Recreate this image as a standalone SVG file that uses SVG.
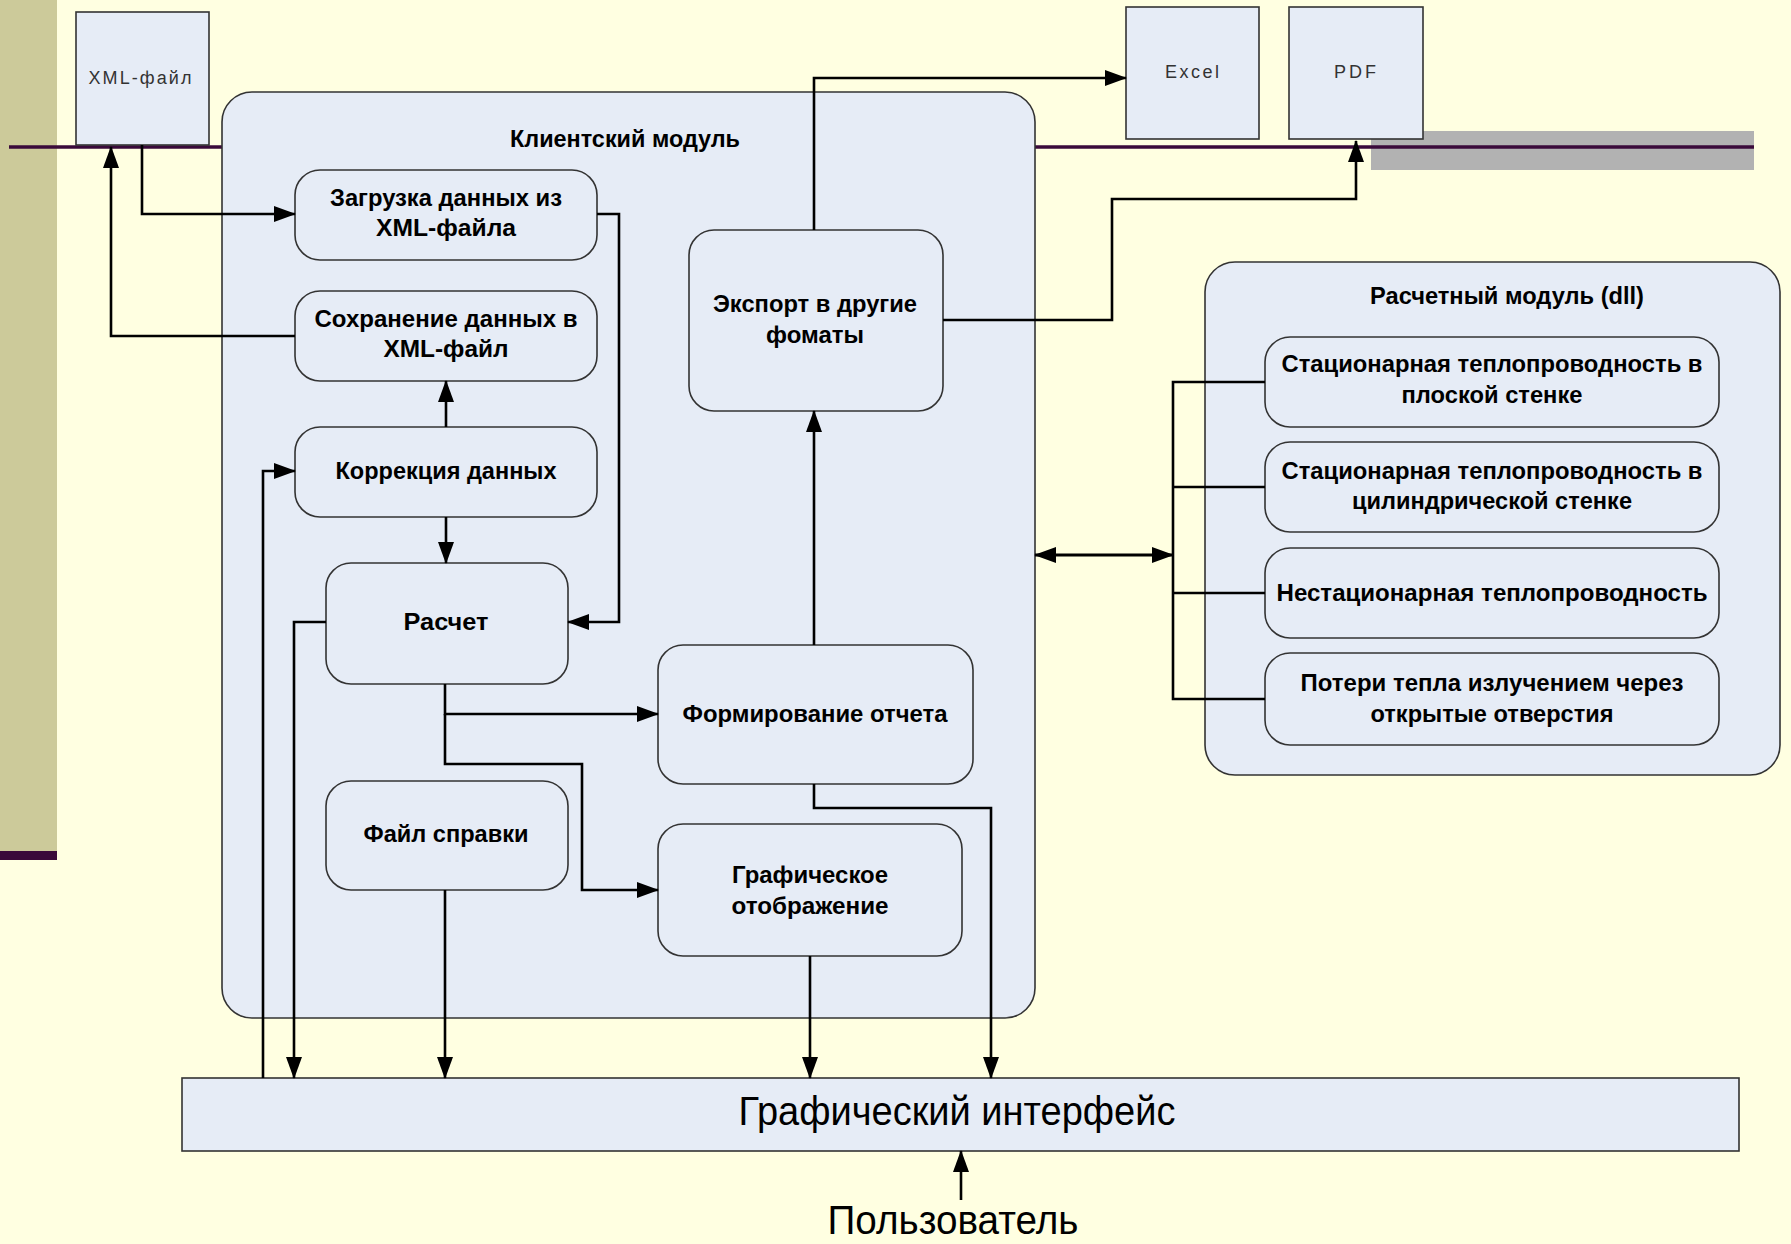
<svg xmlns="http://www.w3.org/2000/svg" width="1791" height="1244" viewBox="0 0 1791 1244">
<style>
.bg{fill:#FFFFE1}
.box{fill:#E6ECF6;stroke:#333;stroke-width:1.6}
.t{font-family:"Liberation Sans",Arial,sans-serif;font-weight:bold;font-size:24px;text-anchor:middle;fill:#000}
.s{font-family:"Liberation Sans",Arial,sans-serif;font-size:18px;text-anchor:middle;fill:#333}
.big{font-family:"Liberation Sans",Arial,sans-serif;font-size:40px;text-anchor:middle;fill:#000}
.c{fill:none;stroke:#000;stroke-width:2.6}
.ca{fill:none;stroke:#000;stroke-width:2.6;marker-end:url(#ah)}
</style>
<defs>
<marker id="ah" markerUnits="userSpaceOnUse" markerWidth="22" markerHeight="16" refX="21" refY="8" orient="auto">
<path d="M0,0 L22,8 L0,16 z" fill="#000"/>
</marker>
<marker id="ah2" markerUnits="userSpaceOnUse" markerWidth="22" markerHeight="16" refX="21" refY="8" orient="auto-start-reverse">
<path d="M0,0 L22,8 L0,16 z" fill="#000"/>
</marker>
</defs>
<rect class="bg" x="0" y="0" width="1791" height="1244"/>
<g id="decor">
<rect x="0" y="0" width="57" height="851" fill="#CCCA9A"/>
<rect x="0" y="851" width="57" height="9" fill="#3A0A3A"/>
<rect x="1371" y="131" width="383" height="39" fill="#B2B2B2"/>
<line x1="9" y1="147" x2="222" y2="147" stroke="#3A0A3A" stroke-width="3.5"/>
<line x1="1035" y1="147" x2="1754" y2="147" stroke="#3A0A3A" stroke-width="3.5"/>
</g>
<g id="client-module">
<rect class="box" x="222" y="92" width="813" height="926" rx="30" ry="30"/>
<text class="t" x="625" y="147" textLength="230" lengthAdjust="spacingAndGlyphs">Клиентский модуль</text>
</g>
<g id="calc-module">
<rect class="box" x="1205" y="262" width="575" height="513" rx="30" ry="30"/>
<text class="t" x="1507" y="304" textLength="274" lengthAdjust="spacingAndGlyphs">Расчетный модуль (dll)</text>
</g>
<g id="xml-file">
<rect class="box" x="76" y="12" width="133" height="133"/>
<text class="s" x="140" y="84" textLength="103" lengthAdjust="spacing">XML-файл</text>
</g>
<g id="excel">
<rect class="box" x="1126" y="7" width="133" height="132"/>
<text class="s" x="1192" y="78" textLength="54" lengthAdjust="spacing">Excel</text>
</g>
<g id="pdf">
<rect class="box" x="1289" y="7" width="134" height="132"/>
<text class="s" x="1355" y="78" textLength="42" lengthAdjust="spacing">PDF</text>
</g>
<g id="load">
<rect class="box" x="295" y="170" width="302" height="90" rx="25" ry="25"/>
<text class="t" x="446" y="206" textLength="232" lengthAdjust="spacingAndGlyphs">Загрузка данных из</text>
<text class="t" x="446" y="236" textLength="140" lengthAdjust="spacingAndGlyphs">XML-файла</text>
</g>
<g id="save">
<rect class="box" x="295" y="291" width="302" height="90" rx="25" ry="25"/>
<text class="t" x="446" y="327" textLength="263" lengthAdjust="spacingAndGlyphs">Сохранение данных в</text>
<text class="t" x="446" y="357" textLength="125" lengthAdjust="spacingAndGlyphs">XML-файл</text>
</g>
<g id="correct">
<rect class="box" x="295" y="427" width="302" height="90" rx="25" ry="25"/>
<text class="t" x="446" y="479" textLength="221" lengthAdjust="spacingAndGlyphs">Коррекция данных</text>
</g>
<g id="calc">
<rect class="box" x="326" y="563" width="242" height="121" rx="25" ry="25"/>
<text class="t" x="446" y="630" textLength="85" lengthAdjust="spacingAndGlyphs">Расчет</text>
</g>
<g id="help">
<rect class="box" x="326" y="781" width="242" height="109" rx="25" ry="25"/>
<text class="t" x="446" y="842" textLength="165" lengthAdjust="spacingAndGlyphs">Файл справки</text>
</g>
<g id="export">
<rect class="box" x="689" y="230" width="254" height="181" rx="25" ry="25"/>
<text class="t" x="815" y="312" textLength="204" lengthAdjust="spacingAndGlyphs">Экспорт в другие</text>
<text class="t" x="815" y="343" textLength="98" lengthAdjust="spacingAndGlyphs">фоматы</text>
</g>
<g id="report">
<rect class="box" x="658" y="645" width="315" height="139" rx="25" ry="25"/>
<text class="t" x="815" y="722" textLength="265" lengthAdjust="spacingAndGlyphs">Формирование отчета</text>
</g>
<g id="graph">
<rect class="box" x="658" y="824" width="304" height="132" rx="25" ry="25"/>
<text class="t" x="810" y="883" textLength="156" lengthAdjust="spacingAndGlyphs">Графическое</text>
<text class="t" x="810" y="914" textLength="157" lengthAdjust="spacingAndGlyphs">отображение</text>
</g>
<g id="sub1">
<rect class="box" x="1265" y="337" width="454" height="90" rx="25" ry="25"/>
<text class="t" x="1492" y="372" textLength="421" lengthAdjust="spacingAndGlyphs">Стационарная теплопроводность в</text>
<text class="t" x="1492" y="403" textLength="181" lengthAdjust="spacingAndGlyphs">плоской стенке</text>
</g>
<g id="sub2">
<rect class="box" x="1265" y="442" width="454" height="90" rx="25" ry="25"/>
<text class="t" x="1492" y="479" textLength="421" lengthAdjust="spacingAndGlyphs">Стационарная теплопроводность в</text>
<text class="t" x="1492" y="509" textLength="280" lengthAdjust="spacingAndGlyphs">цилиндрической стенке</text>
</g>
<g id="sub3">
<rect class="box" x="1265" y="548" width="454" height="90" rx="25" ry="25"/>
<text class="t" x="1492" y="601" textLength="431" lengthAdjust="spacingAndGlyphs">Нестационарная теплопроводность</text>
</g>
<g id="sub4">
<rect class="box" x="1265" y="653" width="454" height="92" rx="25" ry="25"/>
<text class="t" x="1492" y="691" textLength="383" lengthAdjust="spacingAndGlyphs">Потери тепла излучением через</text>
<text class="t" x="1492" y="722" textLength="243" lengthAdjust="spacingAndGlyphs">открытые отверстия</text>
</g>
<g id="gui">
<rect class="box" x="182" y="1078" width="1557" height="73"/>
<text class="big" x="957" y="1125" textLength="437" lengthAdjust="spacingAndGlyphs">Графический интерфейс</text>
</g>
<g id="user">
<text class="big" x="953" y="1234" font-size="39" textLength="251" lengthAdjust="spacingAndGlyphs">Пользователь</text>
</g>
<g id="connectors">
<polyline class="ca" points="142,145 142,214 295,214"/>
<polyline class="ca" points="295,336 111,336 111,147"/>
<polyline class="ca" points="446,427 446,381"/>
<polyline class="ca" points="446,517 446,563"/>
<polyline class="ca" points="597,214 619,214 619,622 568,622"/>
<polyline class="ca" points="445,684 445,714 658,714"/>
<polyline class="ca" points="445,714 445,764 582,764 582,890 658,890"/>
<polyline class="ca" points="326,622 294,622 294,1078"/>
<polyline class="ca" points="263,1078 263,471 295,471"/>
<polyline class="ca" points="445,890 445,1078"/>
<polyline class="ca" points="810,956 810,1078"/>
<polyline class="ca" points="814,784 814,808 991,808 991,1078"/>
<polyline class="ca" points="814,645 814,411"/>
<polyline class="ca" points="814,230 814,78 1126,78"/>
<polyline class="ca" points="943,320 1112,320 1112,199 1356,199 1356,141"/>
<line x1="1035" y1="555" x2="1173" y2="555" stroke="#000" stroke-width="3" marker-start="url(#ah2)" marker-end="url(#ah2)"/>
<polyline class="c" points="1265,382 1173,382 1173,699 1265,699"/>
<line class="c" x1="1173" y1="487" x2="1265" y2="487"/>
<line class="c" x1="1173" y1="593" x2="1265" y2="593"/>
<polyline class="ca" points="961,1200 961,1151"/>
</g>
</svg>
